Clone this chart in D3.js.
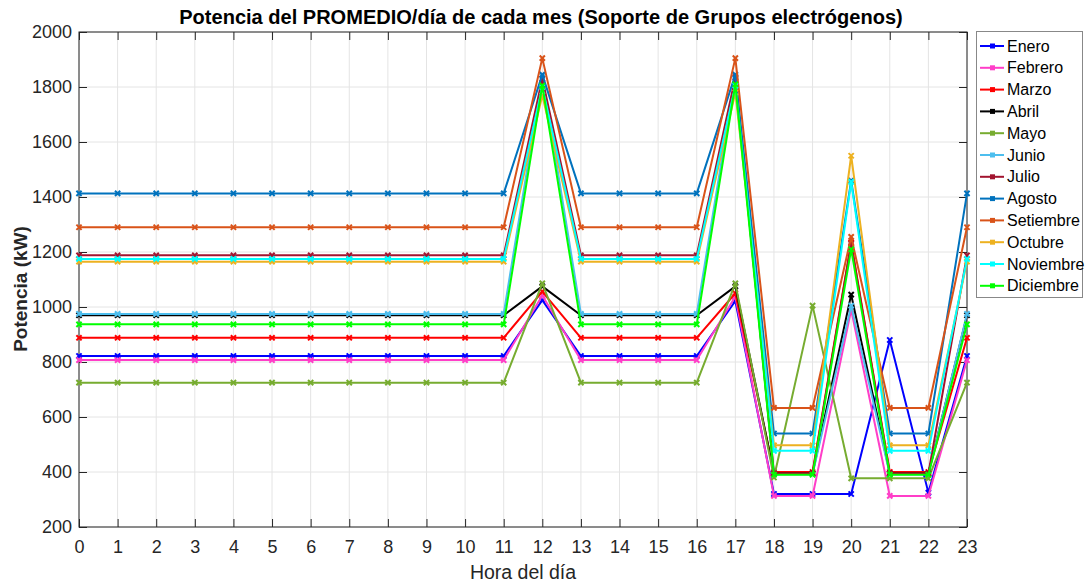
<!DOCTYPE html>
<html><head><meta charset="utf-8">
<script src="https://cdn.jsdelivr.net/npm/d3@7"></script>
<style>body{margin:0;background:#fff}svg{display:block;font-family:"Liberation Sans",Arial,sans-serif}</style>
</head><body><svg id="c" width="1089" height="583"></svg>
<script>
const hours = [0,1,2,3,4,5,6,7,8,9,10,11,12,13,14,15,16,17,18,19,20,21,22,23];
const yTicks = [200,400,600,800,1000,1200,1400,1600,1800,2000];
const months = ["Enero","Febrero","Marzo","Abril","Mayo","Junio","Julio","Agosto","Setiembre","Octubre","Noviembre","Diciembre"];
const colors = ["#0000ff","#ff3ec8","#ff0000","#000000","#77ac30","#4dbeee","#a2142f","#0072bd","#d95319","#edb120","#00ffff","#00ff00"];

const enero     = [822,822,822,822,822,822,822,822,822,822,822,822,1025,822,822,822,822,1022,320,320,320,880,325,822];
const febrero   = [807,807,807,807,807,807,807,807,807,807,807,807,1042,807,807,807,807,1038,313,313,990,313,313,807];
const marzo     = [888,888,888,888,888,888,888,888,888,888,888,888,1056,888,888,888,888,1050,400,400,1235,400,400,888];
const abril     = [970,970,970,970,970,970,970,970,970,970,970,970,1075,970,970,970,970,1075,395,395,1045,395,395,970];
const mayo      = [725,725,725,725,725,725,725,725,725,725,725,725,1086,725,725,725,725,1086,380,1005,377,377,377,725];
const junio     = [975,975,975,975,975,975,975,975,975,975,975,975,1840,975,975,975,975,1840,392,392,1005,392,392,975];
const julio     = [1188,1188,1188,1188,1188,1188,1188,1188,1188,1188,1188,1188,1830,1188,1188,1188,1188,1835,395,395,1230,395,395,1188];
const agosto    = [1413,1413,1413,1413,1413,1413,1413,1413,1413,1413,1413,1413,1845,1413,1413,1413,1413,1845,540,540,1460,540,540,1413];
const setiembre = [1290,1290,1290,1290,1290,1290,1290,1290,1290,1290,1290,1290,1905,1290,1290,1290,1290,1905,633,633,1255,633,633,1290];
const octubre   = [1165,1165,1165,1165,1165,1165,1165,1165,1165,1165,1165,1165,1770,1165,1165,1165,1165,1780,497,497,1550,497,497,1165];
const noviembre = [1175,1175,1175,1175,1175,1175,1175,1175,1175,1175,1175,1175,1800,1175,1175,1175,1175,1805,477,477,1455,477,477,1175];
const diciembre = [937,937,937,937,937,937,937,937,937,937,937,937,1805,937,937,937,937,1810,390,390,1210,390,390,937];

const seriesValues = [enero,febrero,marzo,abril,mayo,junio,julio,agosto,setiembre,octubre,noviembre,diciembre];

const svg = d3.select("#c");
const L=79,R=967,T=32,B=527;
const x = d3.scaleLinear().domain([0,23]).range([L,R]);
const y = d3.scaleLinear().domain([200,2000]).range([B,T]);
const axisCol = "#262626";

// grid
const g = svg.append("g");
g.selectAll(".gx").data(hours).enter().append("line")
 .attr("x1",d=>x(d)).attr("x2",d=>x(d)).attr("y1",T).attr("y2",B)
 .attr("stroke","#e4e4e4").attr("stroke-width",1);
g.selectAll(".gy").data(yTicks).enter().append("line")
 .attr("y1",d=>y(d)).attr("y2",d=>y(d)).attr("x1",L).attr("x2",R)
 .attr("stroke","#e4e4e4").attr("stroke-width",1);

// axes
const fs = 18;
const ax = svg.append("g").attr("transform",`translate(0,${B})`)
 .call(d3.axisBottom(x).tickValues(hours).tickFormat(d3.format("d")).tickSizeInner(-8).tickSizeOuter(0).tickPadding(13));
const ay = svg.append("g").attr("transform",`translate(${L},0)`)
 .call(d3.axisLeft(y).tickValues(yTicks).tickFormat(d3.format("d")).tickSizeInner(-8).tickSizeOuter(0).tickPadding(7));
const axTop = svg.append("g").attr("transform",`translate(0,${T})`)
 .call(d3.axisTop(x).tickValues(hours).tickFormat("").tickSizeInner(-8).tickSizeOuter(0));
const ayR = svg.append("g").attr("transform",`translate(${R},0)`)
 .call(d3.axisRight(y).tickValues(yTicks).tickFormat("").tickSizeInner(-8).tickSizeOuter(0));
[ax,ay,axTop,ayR].forEach(a=>{
  a.select(".domain").remove();
  a.selectAll("line").attr("stroke",axisCol);
  a.selectAll("text").attr("fill",axisCol).style("font-size",fs+"px").style("font-family","'Liberation Sans',Arial,sans-serif");
});
svg.append("rect").attr("x",L).attr("y",T).attr("width",R-L).attr("height",B-T)
 .attr("fill","none").attr("stroke",axisCol).attr("stroke-width",1);

// lines
const line = d3.line().x((d,i)=>x(hours[i])).y(d=>y(d));
const sg = svg.append("g");
seriesValues.forEach((vals,k)=>{
  sg.append("path").attr("d",line(vals)).attr("fill","none")
    .attr("stroke",colors[k]).attr("stroke-width",2).attr("stroke-linejoin","round");
  sg.selectAll(null).data(vals).enter().append("path")
    .attr("d",(d,i)=>{const cx=x(hours[i]),cy=y(d),s=2.6;return `M${cx-s},${cy-s}L${cx+s},${cy+s}M${cx-s},${cy+s}L${cx+s},${cy-s}`;})
    .attr("stroke",colors[k]).attr("stroke-width",2).attr("fill","none");
});

// title
const title = svg.append("text").attr("x",541).attr("y",24).attr("text-anchor","middle")
 .attr("font-weight","bold").style("font-size","19px").attr("fill","#000")
 .text("Potencia del PROMEDIO/día de cada mes (Soporte de Grupos electrógenos)");
const tw = title.node().getComputedTextLength();
title.style("font-size",(19*724/tw).toFixed(2)+"px");

svg.append("text").attr("x",523).attr("y",579).attr("text-anchor","middle")
 .style("font-size","19.5px").attr("fill",axisCol).text("Hora del día");
svg.append("text").attr("transform","translate(27,289) rotate(-90)").attr("text-anchor","middle")
 .attr("font-weight","bold").style("font-size","19px").attr("fill",axisCol).text("Potencia (kW)");

// legend
const lg = svg.append("g");
lg.append("rect").attr("x",976.5).attr("y",31.5).attr("width",106).attr("height",266)
 .attr("fill","#fff").attr("stroke","#888").attr("stroke-width",1);
months.forEach((m,k)=>{
  const yy = 46 + k*21.8;
  lg.append("line").attr("x1",980).attr("x2",1004).attr("y1",yy).attr("y2",yy)
    .attr("stroke",colors[k]).attr("stroke-width",2);
  lg.append("rect").attr("x",990).attr("y",yy-2.5).attr("width",5).attr("height",5).attr("fill",colors[k]);
  lg.append("text").attr("x",1007).attr("y",yy+5.5).style("font-size","16px").attr("fill","#000").text(m);
});
</script></body></html>
